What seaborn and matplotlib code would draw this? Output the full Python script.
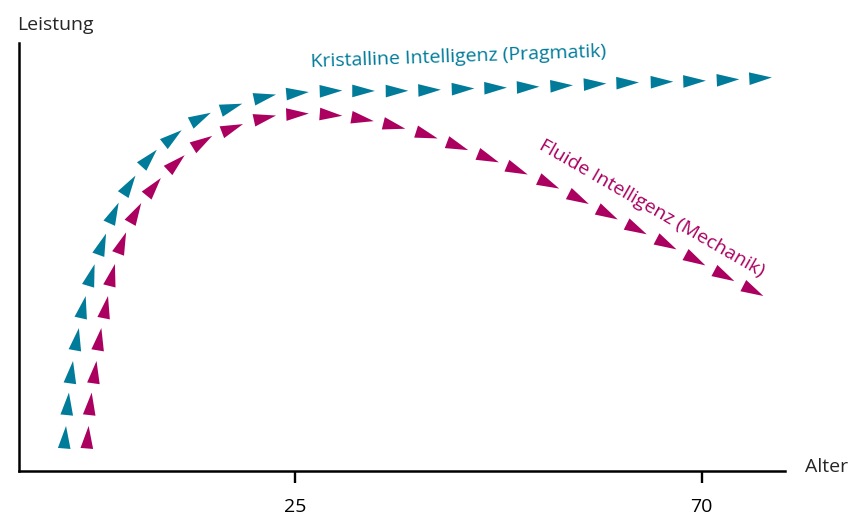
import numpy as np
import pandas as pd
import matplotlib
matplotlib.use('Agg')
import matplotlib.pyplot as plt
import seaborn as sns
from matplotlib.markers import MarkerStyle
from matplotlib.path import Path
from matplotlib.transforms import Affine2D

# Kristalline Intelligenz (Pragmatik)
krist_alter = [-0.4, -0.1, 0.3, 0.9, 1.6, 2.5, 3.7, 5.0, 6.7, 8.9,
               11.5, 14.6, 18.0, 21.7, 25.3, 29.0, 32.6, 36.3, 39.9, 43.6,
               47.2, 50.8, 54.5, 58.2, 61.8, 65.6, 69.2, 72.9, 76.5]
krist_leistung = [7.9, 15.7, 23.1, 30.8, 38.3, 45.8, 53.0, 60.3, 66.8, 73.1,
                  78.0, 82.5, 85.0, 87.4, 88.3, 88.8, 88.8, 88.8, 89.0, 89.3,
                  89.5, 89.7, 90.0, 90.4, 90.7, 90.9, 91.1, 91.4, 91.8]

# Fluide Intelligenz (Mechanik)
fluid_alter = [2.1, 2.4, 2.9, 3.4, 4.1, 4.8, 5.9, 7.4, 9.4, 11.9,
               14.8, 18.1, 21.7, 25.3, 29.0, 32.5, 36.0, 39.6, 43.0, 46.4,
               49.6, 53.1, 56.4, 59.6, 62.8, 66.1, 69.3, 72.5, 75.7]
fluid_leistung = [7.9, 15.7, 23.1, 30.8, 38.3, 45.8, 53.3, 60.3, 66.4, 72.0,
                  76.9, 80.1, 82.5, 83.4, 83.2, 82.2, 80.6, 78.5, 75.9, 73.1,
                  70.3, 67.1, 63.6, 60.0, 56.5, 53.0, 49.3, 45.6, 42.1]

xticks = [25, 70]

teal = '#007b9a'
magenta = '#ab0060'

sns.set_style('white')
plt.rcParams['font.family'] = ['Open Sans', 'DejaVu Sans']

fig = plt.figure(figsize=(8.51, 5.16), dpi=100)
ax = fig.add_axes([19 / 851, 45 / 516, 766 / 851, 428 / 516])
ax.set_xlim(-5.5, 79.2)
ax.set_ylim(0, 100)

# long thin triangle pointing along +x
tri = Path([(-0.5, -0.28), (0.5, 0), (-0.5, 0.28), (-0.5, -0.28)],
           [Path.MOVETO, Path.LINETO, Path.LINETO, Path.CLOSEPOLY])


def draw(alter, leistung, color):
    pts = ax.transData.transform(np.column_stack([alter, leistung]))
    d = np.gradient(pts, axis=0)
    ang = np.degrees(np.arctan2(d[:, 1], d[:, 0]))
    df = pd.DataFrame({'Alter': alter, 'Leistung': leistung, 'k': range(len(alter))})
    mk = {i: MarkerStyle(tri, transform=Affine2D().rotate_deg(a)) for i, a in enumerate(ang)}
    sns.scatterplot(data=df, x='Alter', y='Leistung', style='k', markers=mk,
                    color=color, s=265, linewidth=0, legend=False, ax=ax)


draw(krist_alter, krist_leistung, teal)
draw(fluid_alter, fluid_leistung, magenta)

sns.despine(ax=ax)
for side in ['left', 'bottom']:
    ax.spines[side].set_color('black')
    ax.spines[side].set_linewidth(1.8)

ax.set_xticks(xticks)
ax.set_xticklabels([str(t) for t in xticks])
ax.set_yticks([])
ax.tick_params(axis='x', bottom=True, direction='out', length=8.6, width=1.7,
               pad=11, labelsize=14, colors='black')
ax.set_xlabel('')
ax.set_ylabel('')

fig.text(17 / 851, 1 - 25 / 516, 'Leistung', ha='left', va='center', fontsize=14)
fig.text(805 / 851, 1 - 467 / 516, 'Alter', ha='left', va='center', fontsize=14)

fig.text(458 / 851, 1 - 57 / 516, 'Kristalline Intelligenz (Pragmatik)', color=teal,
         ha='center', va='center', fontsize=14, rotation=2, rotation_mode='anchor')
fig.text(652 / 851, 1 - 208 / 516, 'Fluide Intelligenz (Mechanik)', color=magenta,
         ha='center', va='center', fontsize=14, rotation=-30, rotation_mode='anchor')

fig.savefig('out.png', dpi=100)
